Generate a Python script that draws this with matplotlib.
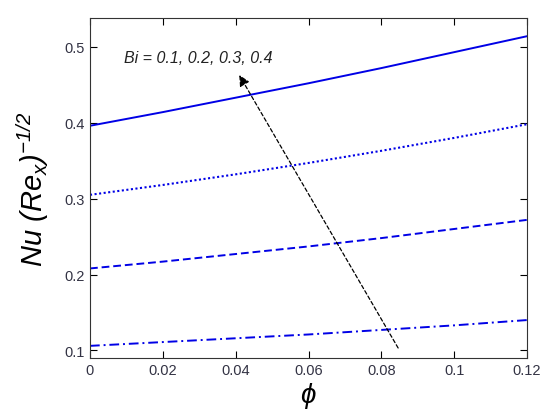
import matplotlib.pyplot as plt

plt.rcParams['font.family'] = 'Liberation Sans'
plt.rcParams['mathtext.fontset'] = 'custom'
# the axis labels are fully italic in the original, digits included
plt.rcParams['mathtext.rm'] = 'Liberation Sans:italic'
plt.rcParams['mathtext.it'] = 'Liberation Sans:italic'

# volume fraction phi
phi = [0.0, 0.02, 0.04, 0.06, 0.08, 0.10, 0.12]

# local Nusselt number for Bi = 0.4, 0.3, 0.2, 0.1
nu_bi04 = [0.396, 0.414, 0.433, 0.452, 0.472, 0.493, 0.514]
nu_bi03 = [0.305, 0.318, 0.332, 0.347, 0.363, 0.380, 0.398]
nu_bi02 = [0.208, 0.217, 0.227, 0.237, 0.248, 0.260, 0.272]
nu_bi01 = [0.106, 0.111, 0.116, 0.121, 0.127, 0.133, 0.140]

x_ticks = [0, 0.02, 0.04, 0.06, 0.08, 0.1, 0.12]
x_tick_labels = ["0", "0.02", "0.04", "0.06", "0.08", "0.1", "0.12"]
y_ticks = [0.1, 0.2, 0.3, 0.4, 0.5]

fig = plt.figure(figsize=(5.5, 4.14), dpi=100)
ax = fig.add_axes([90 / 550, 55 / 414, 437 / 550, 340 / 414])

line_color = "#0000e6"
ax.plot(phi, nu_bi04, color=line_color, linestyle="-", linewidth=1.4)
ax.plot(phi, nu_bi03, color=line_color, linestyle=(0, (1, 1.2)), linewidth=1.5)
ax.plot(phi, nu_bi02, color=line_color, linestyle=(0, (4, 2)), linewidth=1.4)
ax.plot(phi, nu_bi01, color=line_color, linestyle=(0, (5, 2, 1, 2)), linewidth=1.4)

# arrow showing direction of increasing Bi
ax.annotate("", xy=(0.0406, 0.466), xytext=(0.085, 0.10),
            arrowprops=dict(arrowstyle="-|>", color="black", linestyle=(0, (3, 2)),
                            linewidth=0.9, mutation_scale=16))
ax.text(0.0093, 0.4855, "Bi = 0.1, 0.2, 0.3, 0.4", fontsize=11.5,
        style="italic", color="#222222", va="center")

ax.set_xlim(0, 0.12)
ax.set_ylim(0.09, 0.538)
ax.set_xticks(x_ticks)
ax.set_xticklabels(x_tick_labels)
ax.set_yticks(y_ticks)
ax.tick_params(direction="in", top=True, right=True, labelsize=10.5,
               labelcolor="#333344", length=5, width=0.8)
for spine in ax.spines.values():
    spine.set_linewidth(0.8)
    spine.set_color("#333333")

ax.set_xlabel(r"$\mathit{\phi}$", fontsize=20, labelpad=2)
ax.set_ylabel(r"$Nu\ (Re_x)^{-1/2}$", fontsize=21, labelpad=10)

fig.savefig("out.png", dpi=100)
